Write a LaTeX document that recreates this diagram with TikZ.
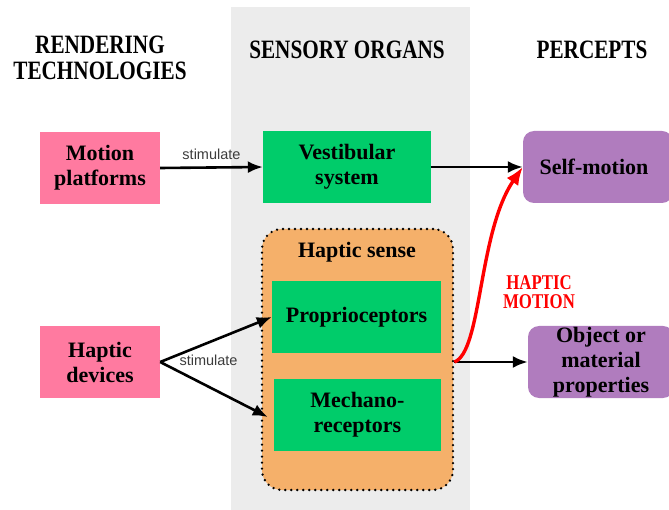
\documentclass[tikz,border=0pt]{standalone}
\usepackage{fontspec}
\setmainfont{Liberation Serif}
\newfontfamily\headfont{Liberation Serif}[FakeStretch=0.8]
\newfontfamily\labfont{Liberation Sans}
\usetikzlibrary{arrows.meta}

\definecolor{bandgray}{RGB}{236,236,236}
\definecolor{techpink}{RGB}{255,122,160}
\definecolor{organgreen}{RGB}{0,204,106}
\definecolor{perceptpurple}{RGB}{176,124,190}
\definecolor{hapticorange}{RGB}{245,176,106}
\definecolor{labgray}{RGB}{60,60,60}

\tikzset{
  boxtext/.style={font=\bfseries\fontsize{22}{25}\selectfont, align=center, inner sep=0pt},
  techbox/.style={boxtext, fill=techpink, minimum width=120pt, minimum height=72pt},
  organbox/.style={boxtext, fill=organgreen, minimum height=72pt},
  perceptbox/.style={boxtext, fill=perceptpurple, rounded corners=11pt, minimum height=72pt},
  heading/.style={font=\headfont\bfseries\fontsize{26.5}{28}\selectfont, align=center},
  stimlabel/.style={font=\labfont\fontsize{14.5}{16}\selectfont, text=labgray},
  link/.style={draw=black, line width=2.6pt, -{Latex[length=15pt,width=12pt]}},
}

\begin{document}
\begin{tikzpicture}[x=1pt,y=-1pt]
\useasboundingbox (0,0) rectangle (669,510);

% column of the sensory organs
\fill[bandgray] (231,7) rectangle (470,510);

% column headings
\node[heading] (hrender) at (100,58) {RENDERING\\[-2pt]TECHNOLOGIES};
\node[heading] (hsense) at (347,50) {SENSORY ORGANS};
\node[heading] (hpercept) at (592,50) {PERCEPTS};

% haptic sense group
\node[fill=hapticorange, rounded corners=20pt, minimum width=191pt, minimum height=261pt,
      draw=black, line width=2.6pt, dash pattern=on 0pt off 6pt, line cap=round, inner sep=0pt]
      (haptic) at (357.5,359.5) {};
\node[font=\bfseries\fontsize{22}{25}\selectfont] (haptictitle) at (357,252) {Haptic sense};

% rendering technologies
\node[techbox] (motion) at (100,168) {Motion\\platforms};
\node[techbox] (devices) at (100,362) {Haptic\\devices};

% sensory organs
\node[organbox, minimum width=168pt] (vest) at (347,167) {Vestibular\\system};
\node[organbox, minimum width=169pt] (proprio) at (356.5,317) {Proprioceptors};
\node[organbox, minimum width=167pt] (mechano) at (357.5,415) {Mechano-\\receptors};

% percepts
\node[perceptbox, minimum width=150pt] (self) at (598,167) {\hspace*{-4pt}Self-motion\hspace*{4pt}};
\node[perceptbox, minimum width=146pt] (object) at (601,362) {Object or\\material\\properties};

% connectors
\draw[link] (motion.east) -- node[stimlabel, above=3pt] {stimulate} (vest.west);
\draw[link] (vest.east) -- (self.west);
\coordinate (fork) at (devices.east);
\draw[link] (fork) -- (proprio.west);
\draw[link] (fork) -- ([xshift=-6pt,yshift=-2pt]mechano.west);
\node[stimlabel, anchor=west] (stim2) at (176,360) {stimulate};
\coordinate (hapout) at ([yshift=-2.5pt]haptic.east);
\draw[link] (hapout) -- (object.west);
\draw[red, line width=3.4pt, -{Latex[length=18pt,width=14pt]}]
  (hapout) .. controls (482,352) and (478,232) .. (self.west);
\node[font=\headfont\bfseries\fontsize{21}{19}\selectfont, text=red, align=center]
  (hmlabel) at (539,292) {HAPTIC\\MOTION};
\end{tikzpicture}
\end{document}
